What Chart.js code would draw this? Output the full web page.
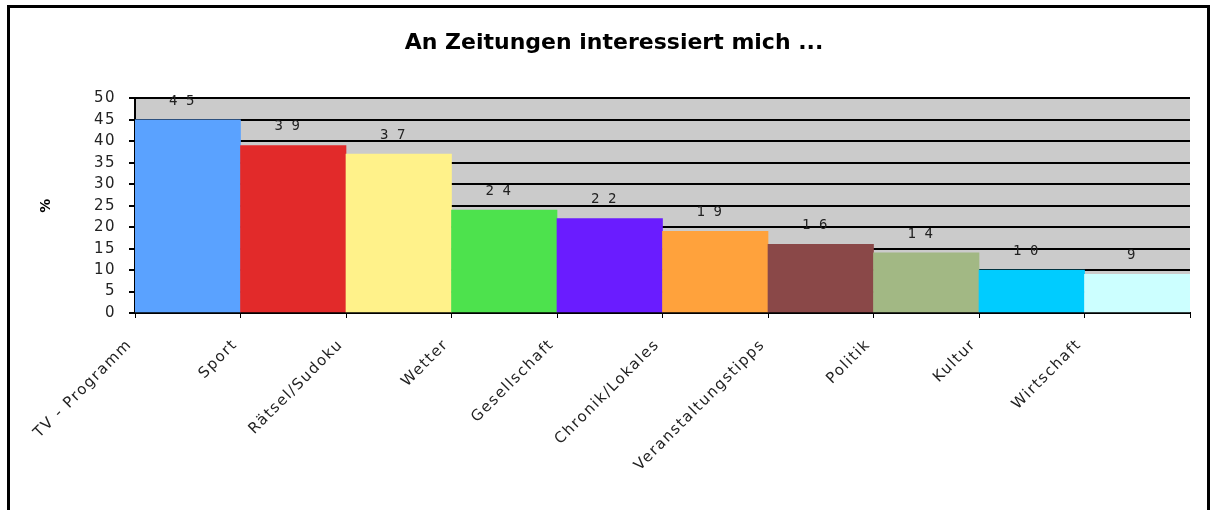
<!DOCTYPE html>
<html>
<head>
<meta charset="utf-8">
<script src="https://cdn.jsdelivr.net/npm/chart.js@4/dist/chart.umd.min.js"></script>
<style>
  html, body { margin: 0; padding: 0; background: #fff; }
  #wrap { width: 1211px; height: 510px; position: relative; }
</style>
</head>
<body>
<div id="wrap"><canvas id="zeitungChart"></canvas></div>
<script>
const categories = ['TV - Programm', 'Sport', 'Rätsel/Sudoku', 'Wetter', 'Gesellschaft',
    'Chronik/Lokales', 'Veranstaltungstipps', 'Politik', 'Kultur', 'Wirtschaft'];
const percentValues = [45, 39, 37, 24, 22, 19, 16, 14, 10, 9];
const barColors = ['#5aa2ff', '#e22a2a', '#fff28a', '#4de24d', '#6a1cff',
    '#ffa23c', '#8a4848', '#a2b884', '#00ccff', '#ccffff'];
const yTicks = [0, 5, 10, 15, 20, 25, 30, 35, 40, 45, 50];

// tick labels in the original look widely spaced, so add letter spacing to them only
function spaceLabels(scale) {
    if (scale._spaced) return;
    scale._spaced = true;
    const orig = scale.drawLabels;
    scale.drawLabels = function (area) {
        const c = this.ctx;
        c.save();
        c.letterSpacing = '1.5px';
        orig.call(this, area);
        c.restore();
    };
}

// grey plot background and the black frame round the whole chart
const backdrop = {
    id: 'backdrop',
    beforeDraw(chart) {
        const { ctx, chartArea: a } = chart;
        ctx.save();
        ctx.fillStyle = '#cbcbcb';
        ctx.fillRect(a.left, a.top, a.right - a.left, a.bottom - a.top);
        ctx.restore();
    },
    afterDraw(chart) {
        const ctx = chart.ctx;
        ctx.save();
        ctx.strokeStyle = '#000';
        ctx.lineWidth = 3;
        ctx.beginPath();
        ctx.moveTo(8.5, 520);
        ctx.lineTo(8.5, 6.5);
        ctx.lineTo(1208.5, 6.5);
        ctx.lineTo(1208.5, 520);
        ctx.stroke();
        ctx.restore();
    }
};

// value labels above each bar
const valueLabels = {
    id: 'valueLabels',
    afterDatasetsDraw(chart) {
        const ctx = chart.ctx;
        const meta = chart.getDatasetMeta(0);
        ctx.save();
        ctx.fillStyle = '#222';
        ctx.font = '14px "DejaVu Sans Mono", monospace';
        ctx.textAlign = 'center';
        ctx.textBaseline = 'bottom';
        meta.data.forEach((bar, i) => {
            ctx.fillText(String(percentValues[i]).split('').join(' '), bar.x - 6, bar.y - 12);
        });
        ctx.restore();
    }
};

new Chart(document.getElementById('zeitungChart').getContext('2d'), {
    type: 'bar',
    data: {
        labels: categories,
        datasets: [{
            data: percentValues,
            backgroundColor: barColors,
            borderWidth: 0,
            categoryPercentage: 1,
            barPercentage: 1
        }]
    },
    options: {
        responsive: true,
        maintainAspectRatio: false,
        animation: false,
        layout: { padding: { left: 38, right: 21, top: 0, bottom: 0 } },
        plugins: {
            legend: { display: false },
            tooltip: { enabled: false },
            title: {
                display: true,
                text: 'An Zeitungen interessiert mich ...',
                color: '#000',
                font: { family: 'DejaVu Sans', size: 22, weight: 'bold' },
                padding: { top: 30, bottom: 42 }
            }
        },
        scales: {
            x: {
                offset: true,
                grid: {
                    offset: true,
                    drawOnChartArea: false,
                    color: '#000',
                    tickLength: 5,
                    tickWidth: 1
                },
                border: { color: '#000', width: 2 },
                ticks: {
                    minRotation: 45,
                    maxRotation: 45,
                    color: '#222',
                    font: { family: 'DejaVu Sans', size: 15 },
                    padding: 18,
                    labelOffset: -58
                },
                afterFit(scale) { scale.height = 197; spaceLabels(scale); }
            },
            y: {
                min: 0,
                max: 50,
                afterBuildTicks(scale) { scale.ticks = yTicks.map(v => ({ value: v })); },
                grid: {
                    color: '#000',
                    lineWidth: 2,
                    tickLength: 6,
                    tickColor: '#000'
                },
                border: { color: '#000', width: 2 },
                ticks: {
                    color: '#222',
                    font: { family: 'DejaVu Sans', size: 15 },
                    padding: 13
                },
                title: {
                    display: true,
                    text: '%',
                    color: '#000',
                    font: { family: 'DejaVu Sans', size: 14, weight: 'bold' },
                    padding: { top: 0, bottom: 0 }
                },
                afterFit(scale) { scale.width = 97; spaceLabels(scale); }
            }
        }
    },
    plugins: [backdrop, valueLabels]
});
</script>
</body>
</html>
